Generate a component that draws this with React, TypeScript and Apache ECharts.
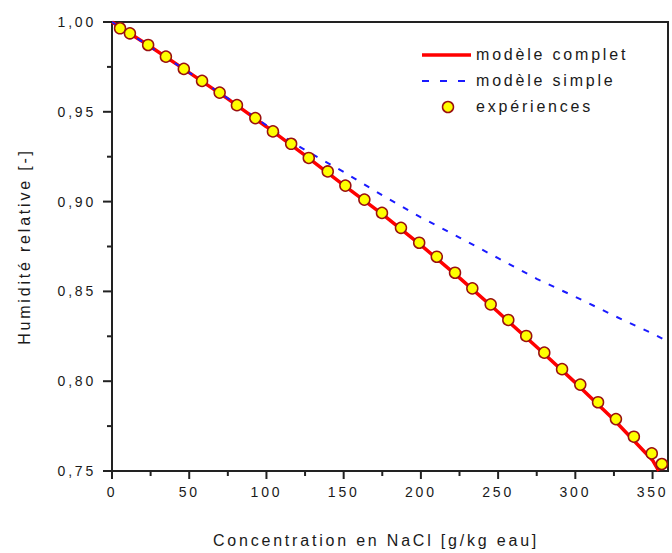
import React, { useEffect, useRef } from "react";
import * as echarts from "echarts";

// Experimental points: concentration [g/kg eau] and relative humidity [-]
const expX = [5.2, 11.6, 23.4, 34.9, 46.5, 58.3, 69.7, 80.9, 92.8, 104.2, 116.0, 127.4, 139.7, 151.1, 163.4, 174.8, 187.1, 198.9, 210.3, 222.1, 233.3, 245.2, 256.6, 268.2, 279.9, 291.4, 303.2, 314.7, 326.3, 337.9, 349.5, 356.0];
const expY = [0.9965, 0.9937, 0.9872, 0.9807, 0.9739, 0.9672, 0.9607, 0.9537, 0.9465, 0.9391, 0.9322, 0.9243, 0.9168, 0.9089, 0.9011, 0.8937, 0.8854, 0.8771, 0.8693, 0.8604, 0.8517, 0.8428, 0.8341, 0.8252, 0.8159, 0.8067, 0.7981, 0.7883, 0.7789, 0.7691, 0.7598, 0.7539];

// Full model
const completX = [0, 25, 50, 75, 100, 125, 150, 175, 200, 225, 250, 275, 300, 325, 350, 354];
const completY = [1.0, 0.9862, 0.9718, 0.9572, 0.9417, 0.9257, 0.9092, 0.893, 0.8758, 0.8575, 0.8385, 0.819, 0.7992, 0.7785, 0.756, 0.75];

// Simple model
const simpleX = [0, 25, 50, 75, 100, 115, 125, 150, 175, 200, 225, 250, 275, 300, 325, 350, 360];
const simpleY = [1.0, 0.986, 0.9718, 0.9575, 0.9425, 0.934, 0.9287, 0.9165, 0.9035, 0.8912, 0.88, 0.8685, 0.857, 0.847, 0.8365, 0.8265, 0.822];

// Axis ticks
const xMajorTicks = [0, 50, 100, 150, 200, 250, 300, 350];
const xMinorTicks = [25, 75, 125, 175, 225, 275, 325];
const yMajorTicks = [0.75, 0.8, 0.85, 0.9, 0.95, 1.0];
const yMinorTicks = [0.775, 0.825, 0.875, 0.925, 0.975];

const seriesNames = ["modèle complet", "modèle simple", "expériences"];

const FONT = "'Liberation Sans', Arial, sans-serif";
const TXT = "#1a1a1a";
const AX = "#222222";
const RED = "#ff0000";
const BLUE = "#1a1aff";
const YEL = "#ffff00";
const EDGE = "#9a1010";

const X_MIN = 0;
const X_MAX = 360;
const Y_MIN = 0.75;
const Y_MAX = 1.0;

export default function App() {
  const ref = useRef<HTMLDivElement>(null);

  useEffect(() => {
    document.body.style.margin = "0";
    if (!ref.current) return;
    const chart = echarts.init(ref.current, undefined, { renderer: "svg" });
    const zip = (xs: number[], ys: number[]) => xs.map((x, i) => [x, ys[i]]);

    // kind: 0 = x major, 1 = x minor, 2 = y major, 3 = y minor
    const tickData = [
      ...xMajorTicks.map((v) => [v, 0]),
      ...xMinorTicks.map((v) => [v, 1]),
      ...yMajorTicks.map((v) => [v, 2]),
      ...yMinorTicks.map((v) => [v, 3]),
    ];
    const tickLen = [8, 5, 9, 5];

    const legendText = (y: number, t: string) => ({
      type: "text",
      left: 476,
      top: y - 9,
      style: { text: t, fill: TXT, font: `16px ${FONT}` },
    });

    chart.setOption({
      animation: false,
      textStyle: { fontFamily: FONT, color: TXT },
      grid: {
        left: 112,
        right: 4,
        top: 22,
        bottom: 81,
        show: true,
        borderColor: AX,
        borderWidth: 2,
        backgroundColor: "transparent",
      },
      graphic: [
        { type: "line", shape: { x1: 422, y1: 55, x2: 471, y2: 55 }, style: { stroke: RED, lineWidth: 3.5 } },
        legendText(55, seriesNames[0]),
        { type: "line", shape: { x1: 422, y1: 81, x2: 470, y2: 81 }, style: { stroke: BLUE, lineWidth: 2, lineDash: [7, 11] } },
        legendText(81, seriesNames[1]),
        { type: "circle", shape: { cx: 448, cy: 107, r: 5.5 }, style: { fill: YEL, stroke: EDGE, lineWidth: 1.5 } },
        legendText(107, seriesNames[2]),
      ],
      xAxis: {
        type: "value",
        min: X_MIN,
        max: X_MAX,
        interval: 50,
        name: "Concentration en NaCl [g/kg eau]",
        nameLocation: "middle",
        nameGap: 61,
        nameTextStyle: { fontFamily: FONT, fontSize: 16, color: TXT, padding: [0, 28, 0, 0] },
        axisLine: { show: true, lineStyle: { color: AX, width: 2 } },
        axisTick: { show: false },
        axisLabel: {
          show: true,
          margin: 14,
          fontSize: 14,
          color: TXT,
          fontFamily: FONT,
          formatter: (v: number) => (v > 355 ? "" : String(v)),
        },
        splitLine: { show: false },
      },
      yAxis: {
        type: "value",
        min: Y_MIN,
        max: Y_MAX,
        interval: 0.05,
        name: "Humidité relative [-]",
        nameLocation: "middle",
        nameGap: 80,
        nameTextStyle: { fontFamily: FONT, fontSize: 16, color: TXT },
        axisLine: { show: true, onZero: false, lineStyle: { color: AX, width: 2 } },
        axisTick: { show: false },
        axisLabel: {
          margin: 16,
          fontSize: 14,
          color: TXT,
          fontFamily: FONT,
          formatter: (v: number) => v.toFixed(2).replace(".", ","),
        },
        splitLine: { show: false },
      },
      series: [
        {
          name: seriesNames[0],
          type: "line",
          data: zip(completX, completY),
          showSymbol: false,
          symbol: "none",
          lineStyle: { color: RED, width: 3.5 },
          itemStyle: { color: RED },
          z: 2,
        },
        {
          name: seriesNames[1],
          type: "line",
          data: zip(simpleX, simpleY),
          showSymbol: false,
          symbol: "none",
          lineStyle: { color: BLUE, width: 2, type: [6, 9] },
          itemStyle: { color: BLUE },
          z: 3,
        },
        {
          name: seriesNames[2],
          type: "scatter",
          data: zip(expX, expY),
          symbol: "circle",
          symbolSize: 11,
          clip: false,
          itemStyle: { color: YEL, borderColor: EDGE, borderWidth: 1.5, opacity: 1 },
          z: 4,
        },
        {
          name: "ticks",
          type: "custom",
          silent: true,
          clip: false,
          z: 5,
          data: tickData,
          encode: { x: 0 },
          renderItem: (_params: any, api: any) => {
            const v = api.value(0);
            const k = api.value(1);
            const len = tickLen[k];
            if (k < 2) {
              const p = api.coord([v, Y_MIN]);
              return {
                type: "line",
                shape: { x1: p[0], y1: p[1], x2: p[0], y2: p[1] + len },
                style: { stroke: AX, lineWidth: 2 },
              };
            }
            const p = api.coord([X_MIN, v]);
            return {
              type: "line",
              shape: { x1: p[0] - len, y1: p[1], x2: p[0], y2: p[1] },
              style: { stroke: AX, lineWidth: 2 },
            };
          },
        },
      ],
    });
    return () => chart.dispose();
  }, []);

  return (
    <>
      <style>{"#chart text{letter-spacing:2.8px}"}</style>
      <div id="chart" ref={ref} style={{ width: 672, height: 553 }} />
    </>
  );
}
